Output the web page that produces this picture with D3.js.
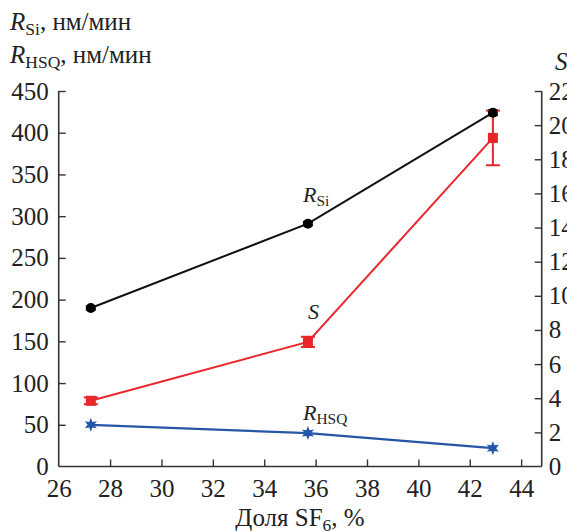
<!DOCTYPE html>
<html><head><meta charset="utf-8">
<script src="https://cdn.jsdelivr.net/npm/d3@7"></script>
<style>body{margin:0;background:#fff}svg{display:block}</style>
</head><body>
<svg id="c" width="567" height="531" font-family="Liberation Serif"></svg>
<script>
const fractionSF6 = [27.25, 35.7, 42.9];
const rSi = [190, 291, 424];
const rSiErr = [2, 2, 3];
const rHSQ = [50, 40, 22];
const selectivity = [3.85, 7.3, 19.25];
const selErrUp = [0.2, 0.3, 1.6];
const selErrDown = [0.2, 0.3, 1.6];
const xTicks = [26, 28, 30, 32, 34, 36, 38, 40, 42, 44];
const yLeftTicks = [0, 50, 100, 150, 200, 250, 300, 350, 400, 450];
const yRightTicks = [0, 2, 4, 6, 8, 10, 12, 14, 16, 18, 20, 22];

const FONT = 'Liberation Serif';
const svg = d3.select("#c");
const x = d3.scaleLinear([26, 44.8], [58.7, 541.7]);
const yL = d3.scaleLinear([0, 450], [466.5, 91]);
const yR = d3.scaleLinear([0, 22], [466.5, 91]);
const fs = 25;

const gx = svg.append("g").attr("transform", `translate(0,${yL(0)})`)
  .call(d3.axisBottom(x).tickValues(xTicks).tickSize(-7).tickPadding(13).tickFormat(d3.format("d")));
const gl = svg.append("g").attr("transform", `translate(${x(26)},0)`)
  .call(d3.axisLeft(yL).tickValues(yLeftTicks).tickSize(-7).tickPadding(10));
const gr = svg.append("g").attr("transform", `translate(${x(44.8)},0)`)
  .call(d3.axisRight(yR).tickValues(yRightTicks).tickSize(-7).tickPadding(7));
[gx, gl, gr].forEach(g => {
  g.attr("font-family", FONT).attr("font-size", fs);
  g.select(".domain").attr("stroke", "#333").attr("stroke-width", 1.6);
  g.selectAll(".tick line").attr("stroke", "#333").attr("stroke-width", 1.4);
  g.selectAll(".tick text").attr("font-size", fs).attr("font-family", FONT).attr("fill", "#222");
});
gx.select(".domain").attr("d", `M${x(26)},0H${x(44.8)}`);
gl.select(".domain").attr("d", `M0,${yL(0)}V${yL(450)}`);
gr.select(".domain").attr("d", `M0,${yR(0)}V${yR(22)}`);
gx.selectAll(".tick").filter(d => d === 26).select("line").remove();
gl.selectAll(".tick").filter(d => d === 0).select("line").remove();
gr.selectAll(".tick").filter(d => d === 0).select("line").remove();

const line = (ys, sc) => d3.line().x((d, i) => x(fractionSF6[i])).y(d => sc(d))(ys);

svg.append("path").attr("d", line(rSi, yL)).attr("fill", "none").attr("stroke", "#111").attr("stroke-width", 2);
svg.append("path").attr("d", line(selectivity, yR)).attr("fill", "none").attr("stroke", "#e8262c").attr("stroke-width", 2);
svg.append("path").attr("d", line(rHSQ, yL)).attr("fill", "none").attr("stroke", "#2556a8").attr("stroke-width", 2.2);

function errBars(vals, up, down, sc, color, cap) {
  vals.forEach((v, i) => {
    const cx = x(fractionSF6[i]);
    const y1 = sc(v + up[i]), y2 = sc(v - down[i]);
    svg.append("line").attr("x1", cx).attr("x2", cx).attr("y1", y1).attr("y2", y2).attr("stroke", color).attr("stroke-width", 2);
    [y1, y2].forEach(yy => svg.append("line").attr("x1", cx - cap).attr("x2", cx + cap).attr("y1", yy).attr("y2", yy).attr("stroke", color).attr("stroke-width", 2));
  });
}
errBars(rSi, rSiErr, rSiErr, yL, "#111", 5);
errBars(selectivity, selErrUp, selErrDown, yR, "#e8262c", 7);

svg.selectAll(".si").data(rSi).join("circle")
  .attr("cx", (d, i) => x(fractionSF6[i])).attr("cy", d => yL(d)).attr("r", 5).attr("fill", "#000");
svg.selectAll(".s").data(selectivity).join("rect")
  .attr("x", (d, i) => x(fractionSF6[i]) - 5).attr("y", d => yR(d) - 5).attr("width", 10).attr("height", 10).attr("fill", "#e8262c");
function starPath(r1, r2, n) {
  const p = d3.path();
  for (let k = 0; k < 2 * n; k++) {
    const a = -Math.PI / 2 + k * Math.PI / n;
    const r = k % 2 ? r2 : r1;
    if (k === 0) p.moveTo(r * Math.cos(a), r * Math.sin(a)); else p.lineTo(r * Math.cos(a), r * Math.sin(a));
  }
  p.closePath();
  return p.toString();
}
svg.selectAll(".h").data(rHSQ).join("path")
  .attr("d", starPath(7, 3.2, 6))
  .attr("transform", (d, i) => `translate(${x(fractionSF6[i])},${yL(d)})`)
  .attr("fill", "#2556a8");

function txt(xp, yp, size) {
  return svg.append("text").attr("x", xp).attr("y", yp).attr("font-family", FONT).attr("font-size", size).attr("fill", "#222");
}
function rLabel(xp, yp, sub, size) {
  const t = txt(xp, yp, size);
  t.append("tspan").attr("font-style", "italic").text("R");
  t.append("tspan").attr("font-size", size * 0.7).attr("dy", 4).text(sub);
  return t;
}
rLabel(303, 202, "Si", 22);
txt(308, 319, 22).attr("font-style", "italic").text("S");
rLabel(303, 420, "HSQ", 22);

function titleLine(yp, sub) {
  const t = txt(10, yp, fs);
  t.append("tspan").attr("font-style", "italic").text("R");
  t.append("tspan").attr("font-size", fs * 0.7).attr("dy", 5).text(sub);
  t.append("tspan").attr("dy", -5).text(", нм/мин");
}
titleLine(30, "Si");
titleLine(63, "HSQ");
txt(555, 70, fs).attr("font-style", "italic").text("S");

const xt = txt(300, 526, fs).attr("text-anchor", "middle");
xt.append("tspan").text("Доля SF");
xt.append("tspan").attr("font-size", fs * 0.7).attr("dy", 5).text("6");
xt.append("tspan").attr("dy", -5).text(", %");
</script>
</body></html>
